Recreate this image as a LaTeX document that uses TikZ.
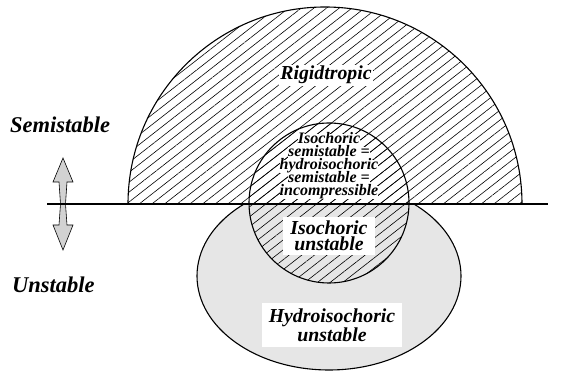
\documentclass[tikz,border=0pt]{standalone}
\usepackage{fontspec}
\setmainfont{Liberation Serif}
\usetikzlibrary{patterns.meta}
\definecolor{ellgray}{HTML}{E6E6E6}
\definecolor{arrgray}{HTML}{D2D2D2}
\begin{document}
\begin{tikzpicture}[x=1pt,y=1pt,
 hatch/.style={pattern={Lines[angle=38,distance=7.8pt,line width=0.6pt]}},
 lbl/.style={font=\bfseries\itshape\fontsize{19.8}{15.5}\selectfont, align=center, fill=white, inner sep=0pt},
 smalltxt/.style={font=\bfseries\itshape\fontsize{16}{13}\selectfont, fill=white, inner sep=0pt, text height=10pt, text depth=2.8pt, anchor=base},
 side/.style={font=\bfseries\itshape\fontsize{22.5}{24}\selectfont, anchor=base west, inner sep=0pt},
 outl/.style={line width=1.1pt}]
\useasboundingbox (0,0) rectangle (563,382);
% ellipse (hydroisochoric unstable)
\filldraw[fill=ellgray, outl] (329,106) ellipse [x radius=132, y radius=94];
% semicircle (rigidtropic)
\fill[white] (128,178) arc[start angle=180,end angle=0,radius=197] -- cycle;
\fill[hatch] (128,178) arc[start angle=180,end angle=0,radius=197] -- cycle;
\draw[outl] (128,178) arc[start angle=180,end angle=0,radius=197] -- cycle;
% small circle (isochoric)
\fill[hatch] (329,179) circle[radius=80];
\draw[outl] (329,179) circle[radius=80];
% double arrow
\filldraw[fill=arrgray, line width=0.6pt] (63,224) -- (73,200) -- (67,200) -- (65.5,178) -- (67,157) -- (73,157) -- (63,132) -- (53,157) -- (59,157) -- (60.5,178) -- (59,200) -- (53,200) -- cycle;
% horizontal line
\coordinate (lineL) at (47,178);
\coordinate (lineR) at (548,178);
\draw[outl] (lineL) -- (lineR);
% labels
\node[lbl, inner sep=1.5pt, anchor=base] (rigid) at (326,302) {Rigidtropic};
\node[smalltxt] (s1) at (329,238) {Isochoric};
\node[smalltxt] (s2) at (329,225) {semistable =};
\node[smalltxt] (s3) at (329,212) {hydroisochoric};
\node[smalltxt] (s4) at (329,199) {semistable =};
\node[smalltxt] (s5) at (329,186) {incompressible};
\node[lbl, minimum width=92pt, minimum height=38pt] (isou) at (329,146) {Isochoric\\unstable};
\node[lbl, minimum width=140pt, minimum height=44pt] (hydu) at (332,57) {Hydroisochoric\\unstable};
\node[side] (semi) at (10,249) {Semistable};
\node[side] (unst) at (12,89) {Unstable};
\end{tikzpicture}
\end{document}
